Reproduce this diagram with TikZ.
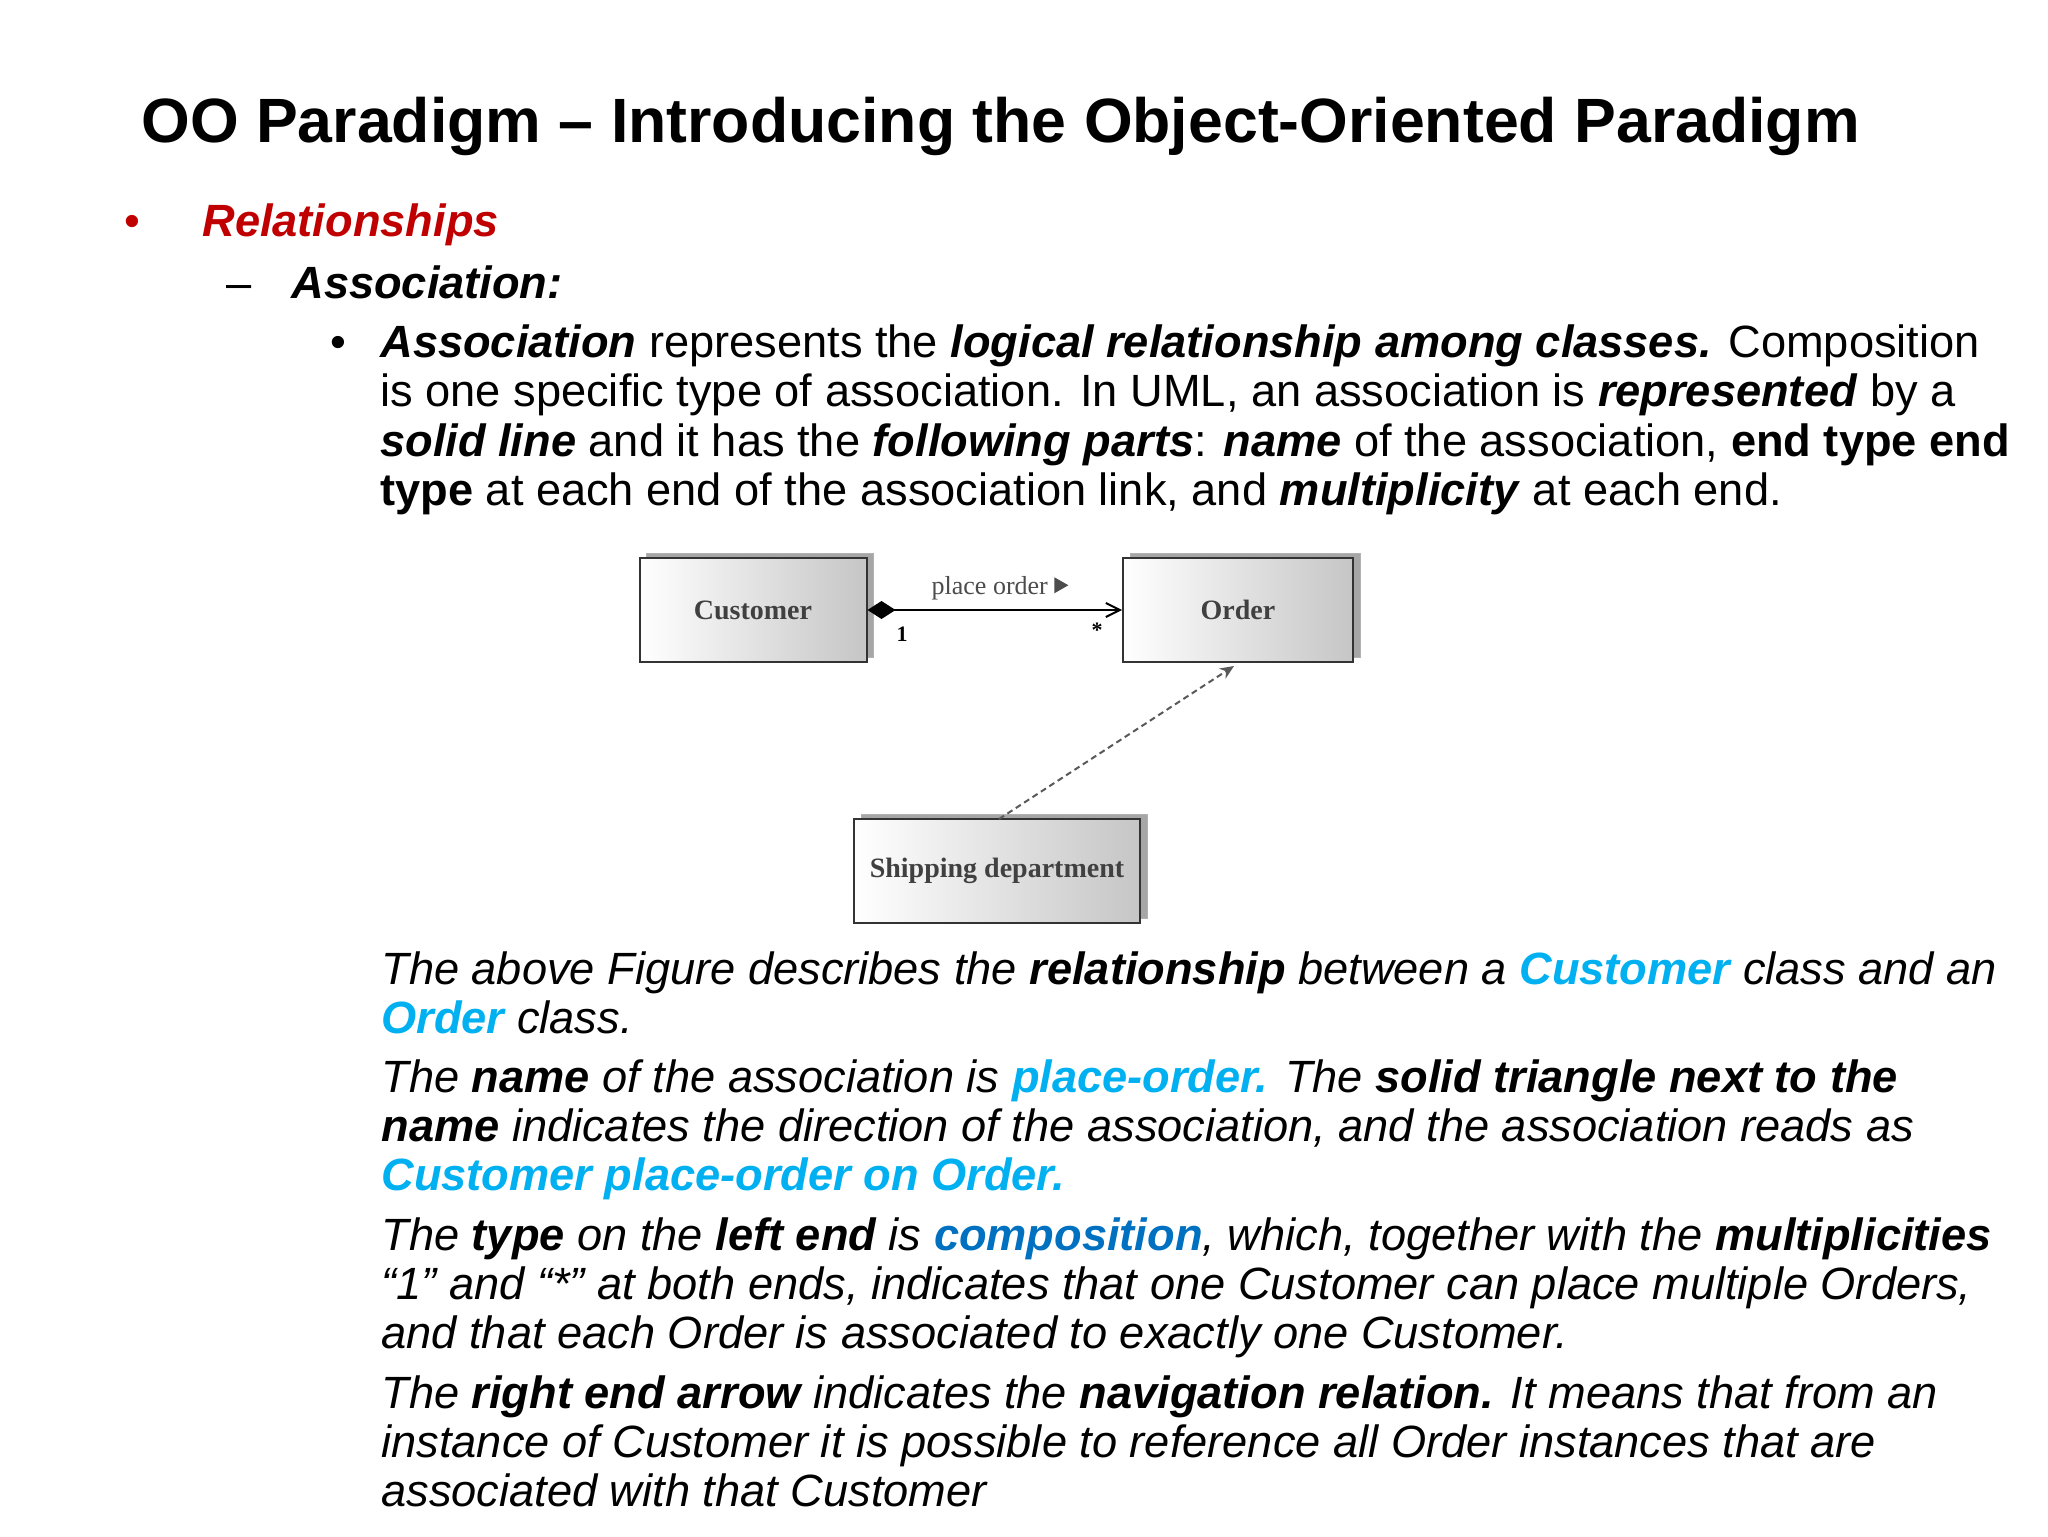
\documentclass[tikz,border=0pt]{standalone}
\usepackage{fontspec}
\setmainfont{Liberation Sans}
\newfontfamily\umlfont{Liberation Serif}
\usetikzlibrary{arrows.meta}
\definecolor{relred}{HTML}{C00000}
\definecolor{lblue}{HTML}{00B0F0}
\definecolor{dblue}{HTML}{0070C0}
\newcommand{\bi}[1]{\textbf{\textit{#1}}}
\begin{document}
\begin{tikzpicture}[x=0.5pt,y=-0.5pt,
  txt/.style={anchor=base west,inner sep=0pt,font=\fontsize{22.6}{26}\selectfont},
  umlbox/.style={draw=black!80,line width=1pt,left color=white,right color=gray!45,minimum width=113.5pt,minimum height=52pt,inner sep=0pt,font=\umlfont\bfseries\fontsize{14}{16}\selectfont,text=black!75},
  shadowbox/.style={fill=gray!70,draw=gray!60,minimum width=113.5pt,minimum height=52pt,inner sep=0pt}]
\useasboundingbox (0,0) rectangle (2048,1536);
\fill[white] (0,0) rectangle (2048,1536);
\node[anchor=base west,inner sep=0pt,font=\bfseries\fontsize{31.3}{36}\selectfont] (title) at (141,142) {OO Paradigm -- Introducing the Object-Oriented Paradigm};
\node[txt,text=relred] (b1) at (124,236) {•};
\node[txt,text=relred] (rel) at (202,236) {\bi{Relationships}};
\node[txt] (d1) at (226,298) {--};
\node[txt] (assoc) at (291,298) {\bi{Association:}};
\node[txt] (b2) at (330,357) {•};
\node[txt] (l1) at (380,357) {\bi{Association} represents the \bi{logical relationship among classes.} Composition};
\node[txt] (l2) at (380,406) {is one specific type of association. In UML, an association is \bi{represented} by a};
\node[txt] (l3) at (380,456) {\bi{solid line} and it has the \bi{following parts}: \bi{name} of the association, \textbf{end type end}};
\node[txt] (l4) at (380,505) {\textbf{type} at each end of the association link, and \bi{multiplicity} at each end.};
% diagram
\node[shadowbox] (cs) at (760,605) {};
\node[umlbox] (cust) at (753,610) {Customer};
\node[shadowbox,minimum width=115pt] (os) at (1245,605) {};
\node[umlbox,minimum width=115pt] (ord) at (1238,610) {Order};
\node[shadowbox,minimum width=143pt] (ss) at (1004,866) {};
\node[umlbox,minimum width=143pt] (ship) at (997,871) {Shipping department};
\draw[line width=1pt,{Diamond[length=14pt,width=9pt]}-{Straight Barb[length=7pt,width=7pt]}] (cust.east) -- (ord.west);
\node[font=\umlfont\fontsize{13}{15}\selectfont,text=black!70] (po) at (1000,588) {place order \raisebox{0.5pt}{\tikz\fill (0,0)--(0,8pt)--(7pt,4pt)--cycle;}};
\node[font=\umlfont\bfseries\fontsize{11}{13}\selectfont] (one) at (902,634) {1};
\node[font=\umlfont\bfseries\fontsize{11}{13}\selectfont] (star) at (1097,630) {*};
\coordinate (st) at (999,819);
\coordinate (oe) at (1234,666);
\draw[densely dashed,line width=1pt,gray!70!black,-{Stealth[length=7pt,width=6pt]}] (st) -- (oe);
% paragraphs
\node[txt] (p1a) at (381,984) {\textit{The above Figure describes the \textbf{relationship} between a \textcolor{lblue}{\textbf{Customer}} class and an}};
\node[txt] (p1b) at (381,1033) {\textit{\textcolor{lblue}{\textbf{Order}} class.}};
\node[txt] (p2a) at (381,1092) {\textit{The \textbf{name} of the association is \textcolor{lblue}{\textbf{place-order.}} The \textbf{solid triangle next to the}}};
\node[txt] (p2b) at (381,1141) {\textit{\textbf{name} indicates the direction of the association, and the association reads as}};
\node[txt] (p2c) at (381,1190) {\textit{\textcolor{lblue}{\textbf{Customer place-order on Order.}}}};
\node[txt] (p3a) at (381,1250) {\textit{The \textbf{type} on the \textbf{left end} is \textcolor{dblue}{\textbf{composition}}, which, together with the \textbf{multiplicities}}};
\node[txt] (p3b) at (381,1299) {\textit{“1” and “*” at both ends, indicates that one Customer can place multiple Orders,}};
\node[txt] (p3c) at (381,1348) {\textit{and that each Order is associated to exactly one Customer.}};
\node[txt] (p4a) at (381,1408) {\textit{The \textbf{right end arrow} indicates the \textbf{navigation relation.} It means that from an}};
\node[txt] (p4b) at (381,1457) {\textit{instance of Customer it is possible to reference all Order instances that are}};
\node[txt] (p4c) at (381,1506) {\textit{associated with that Customer}};
\end{tikzpicture}
\end{document}
